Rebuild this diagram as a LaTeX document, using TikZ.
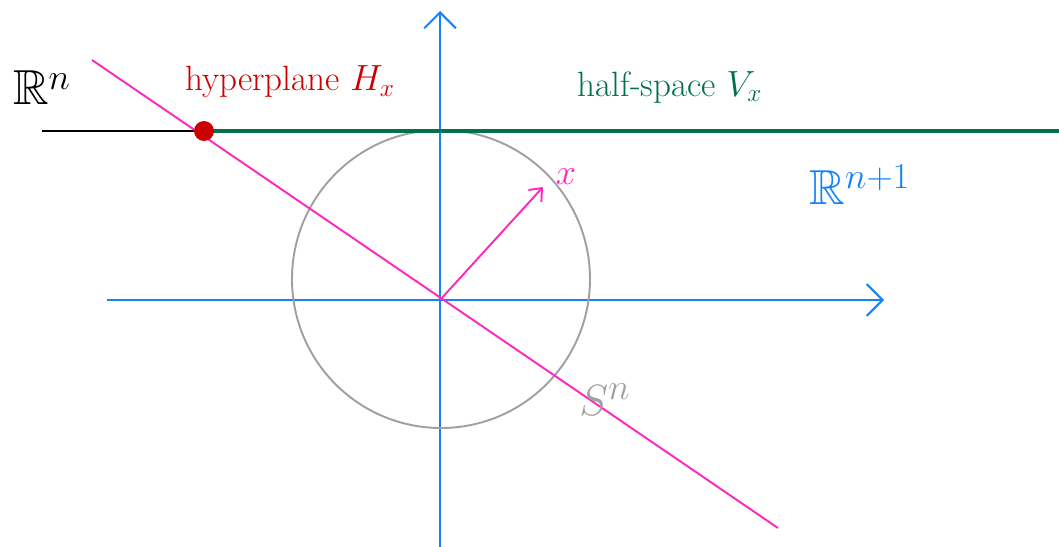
\documentclass[tikz,border=0pt]{standalone}
\usepackage{amssymb}
\usetikzlibrary{arrows.meta}
\definecolor{axisblue}{RGB}{20,130,250}
\definecolor{hypred}{RGB}{205,0,0}
\definecolor{halfgreen}{RGB}{0,112,80}
\definecolor{linepink}{RGB}{255,40,190}
\definecolor{spheregray}{RGB}{160,160,160}
\tikzset{
    axis/.style={axisblue,line width=1.2pt,-{Straight Barb[length=9pt,width=18pt]}},
    lbl/.style={font=\fontsize{20}{24}\selectfont,inner sep=0pt},
    biglbl/.style={font=\fontsize{28}{32}\selectfont,inner sep=0pt}
}
\begin{document}
\begin{tikzpicture}[x=0.02cm,y=-0.02cm]
        \useasboundingbox (0,0) rectangle (1059,547);
        \coordinate (O) at (440,300);
        \coordinate (H) at (204,131);
        % axes
        \draw[axis] (107,300) -- (884,300);
        \draw[axis] (440,547) -- (440,11);
        % sphere
        \draw[spheregray,line width=1.1pt] (441,279) circle (149);
        % R^n and half-space
        \draw[black,line width=1.1pt] (42,131) -- (H);
        \draw[halfgreen,line width=2.6pt] (H) -- (1059,131);
        % hyperplane through the origin
        \draw[linepink,line width=1.1pt] (92,60) -- (778,528);
        \draw[linepink,line width=1.1pt,-{Straight Barb[length=6pt,width=10pt]}] (O) -- (543,187);
        \fill[hypred] (H) circle (10);
        \node[biglbl] (rn) at (42,88) {$\mathbb{R}^n$};
        \node[lbl,hypred] (hyp) at (290,82) {hyperplane $H_x$};
        \node[lbl,halfgreen] (half) at (670,87) {half-space $V_x$};
        \node[biglbl,axisblue] (rn1) at (860,185) {$\mathbb{R}^{n+1}$};
        \node[lbl,linepink] (xv) at (566,177) {$x$};
        \node[biglbl,spheregray] (sn) at (605,400) {$S^n$};
    \end{tikzpicture}
\end{document}
